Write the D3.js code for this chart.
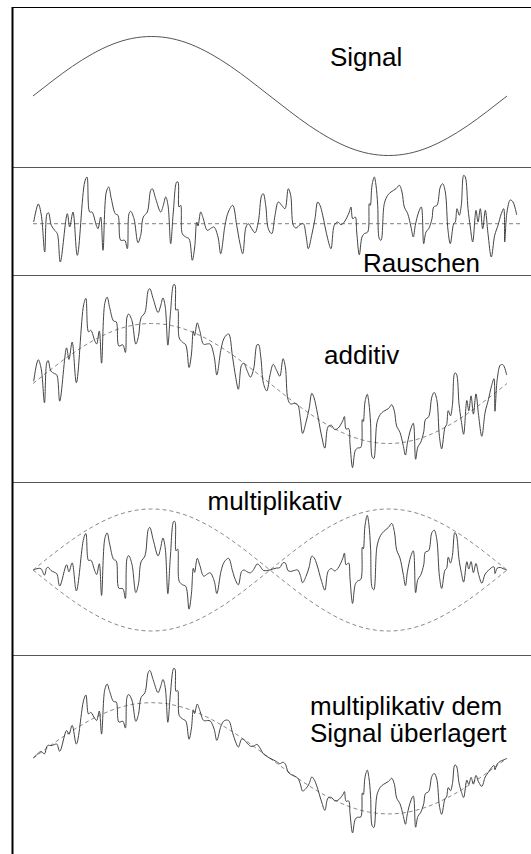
<!DOCTYPE html>
<html><head><meta charset="utf-8">
<script src="https://cdn.jsdelivr.net/npm/d3@7/dist/d3.min.js"></script>
<style>
html,body{margin:0;padding:0;background:#fff;}
svg{display:block;}
text{font-family:"Liberation Sans",Arial,sans-serif;font-size:26px;fill:#000;}
</style></head>
<body><svg id="c" width="531" height="854"></svg>
<script>
// ---- data ----
// time axis: 0 .. 484 (arbitrary units), signal amplitude units: +-60
const signalV = [0,15.5,30,42.4,52,58,60,58,52,42.4,30,15.5,0,-15.5,-30,-42.4,-52,-58,-60,-58,-52,-42.4,-30,-15.5,0];
const noiseT = [0.7,5.3,8.3,11.7,14,15.5,18.3,21.7,24.3,27.3,34.3,36.7,40,44.3,51.7,54,56.7,59,63.3,65,67.7,70,73.3,75.7,78.3,82.3,85,87.7,91.7,94.3,96,97.7,101,105,107.7,110.3,114.3,117.7,119.3,122.7,127.7,130.3,132.7,135,137.7,140.3,143.7,145,146,147.7,149.3,152.7,156,159.3,161.7,163.7,165,167.7,170.3,174.3,178.3,181,185,187.7,192,195.3,199.7,203.7,207,209.7,213,215.3,218.7,222,225.3,228.7,230.3,232.7,235.3,238.7,242,245.3,248.7,252,255.3,257.7,260.3,263,267,270.3,273,275.3,278.7,282,284.7,287,289.7,294.7,298,301.3,304.7,308,311.3,316.3,318,319.7,322.3,323.7,326.3,329,331.3,334.7,336.3,337.3,339,341.3,343,344.7,346.3,348,351.3,354.7,358,363,366.3,369,371.3,374.7,378,380.3,382.3,385.7,388.3,390.7,393,395.7,399,400.7,404,407.3,409.7,412.3,415,417.3,420.7,422.3,424,426.3,428.3,430.7,432.3,435,437.3,439.7,443,445,447.3,449.7,452.3,455,458.3,461.7,465,468.3,470.7,471.7,474,477.3,480,483.7];
const noiseV = [1.7,19.7,8.7,-28.3,9.7,11,-1.6,-6.6,-10,-38.3,10,-3.3,11.7,-31.6,41.7,46.7,11.7,11.7,-1.6,-5,6.7,-26.6,31.7,36.7,25,10,8.4,-16.6,-16.6,-25,10,12.4,5,-19,-11.6,6.7,11.7,33.4,35,25,11.7,18.4,26.7,18.4,-20,11.7,41.7,41.7,16.7,18.4,-10,-13.3,-15,-36.6,-23.3,1.7,-2.3,11.7,5,-6.6,-4.3,-3.3,-13.3,-30,-1.6,11.7,18.4,-1.6,-20,-30,-3.3,0,-5,-9,1.7,28.4,30,18.4,-5,-10,8.4,21.7,18.4,15,35,28.4,-1.6,-4.3,-1,0,-11.6,-25,-11.6,5,21.7,18.4,8.4,-15,-25,-1.6,1.7,-1,1.7,11.7,16.7,5,6.7,-8.3,-31,-13.3,-10,-8.3,20,18.4,38.4,46.7,38.4,18.4,-15,-16.6,20,28.4,31.7,35,38.4,31.7,16.7,10,-3.3,-13.3,-1.6,11.7,16.7,-20,-8.3,-5,5,16.7,18.4,36.7,40,31.7,-6.6,-20,0,1.7,15,8.4,18.4,48.4,46.7,15,-3.3,-18.3,13.4,1.7,15,-5,13.4,-10,-33.3,-11.6,-1.6,10,15,-18.3,11.7,23.7,21.7,8.7];
const labels = ["Signal","Rauschen","additiv","multiplikativ",["multiplikativ dem","Signal überlagert"]];

// ---- layout ----
const svg = d3.select("#c");
const W = 531, H = 854;
const T_MAX = 484;
const signalT = signalV.map((d,i)=> i*T_MAX/(signalV.length-1));
const sigAt = d3.scaleLinear().domain(signalT).range(signalV);

const xMain = d3.scaleLinear().domain([0,T_MAX]).range([33,507]);
const xNoise = d3.scaleLinear().domain([0,T_MAX]).range([33,517]);
function yScale(center, amp){ return d3.scaleLinear().domain([-60,60]).range([center+amp, center-amp]); }

const y1 = yScale(96,59.5), y2 = yScale(223.7,60), y3 = yScale(383.5,60), y4 = yScale(570,61), y5 = yScale(758.3,55.6);

const solid = {stroke:"#444", width:1};
const dashStyle = {stroke:"#8a8a8a", width:1, dash:"4,3"};

function drawLine(pts, x, y, curve, st){
  const line = d3.line().x(d=>x(d[0])).y(d=>y(d[1])).curve(curve);
  const p = svg.append("path").attr("d", line(pts)).attr("fill","none")
    .attr("stroke", st.stroke).attr("stroke-width", st.width);
  if (st.dash) p.attr("stroke-dasharray", st.dash);
  return p;
}
const cr = d3.curveCatmullRom.alpha(0.5);
const signalPts = signalT.map((t,i)=>[t, signalV[i]]);

// frame
svg.append("rect").attr("width",W).attr("height",H).attr("fill","#fff");
[167,275,482,655].forEach(yy=>{
  svg.append("line").attr("x1",13).attr("x2",W).attr("y1",yy+0.5).attr("y2",yy+0.5).attr("stroke","#555").attr("stroke-width",1);
});
svg.append("line").attr("x1",12).attr("x2",W).attr("y1",7.5).attr("y2",7.5).attr("stroke","#000").attr("stroke-width",1);
svg.append("line").attr("x1",12.5).attr("x2",12.5).attr("y1",7).attr("y2",H).attr("stroke","#000").attr("stroke-width",2);

// Panel 1: signal
drawLine(signalPts, xMain, y1, d3.curveNatural, {stroke:"#555", width:1});

// Panel 2: noise
svg.append("line").attr("x1",xNoise(0)).attr("x2",520).attr("y1",y2(0)).attr("y2",y2(0))
  .attr("stroke","#999").attr("stroke-width",1.2).attr("stroke-dasharray","4,3");
const noisePts = noiseT.map((t,i)=>[t, noiseV[i]]);
drawLine(noisePts, xNoise, y2, cr, solid);

// Panel 3: additive
drawLine(signalPts, xMain, y3, d3.curveNatural, dashStyle);
drawLine(noiseT.map((t,i)=>[t, sigAt(t)+noiseV[i]]), xMain, y3, cr, solid);

// Panel 4: multiplicative
drawLine(signalPts, xMain, y4, d3.curveNatural, dashStyle);
drawLine(signalPts.map(d=>[d[0],-d[1]]), xMain, y4, d3.curveNatural, dashStyle);
drawLine(noiseT.map((t,i)=>[t, noiseV[i]*Math.abs(sigAt(t))/60*1.2]), xMain, y4, cr, solid);

// Panel 5: multiplicative on signal
drawLine(signalPts, xMain, y5, d3.curveNatural, dashStyle);
drawLine(noiseT.map((t,i)=>[t, sigAt(t)+noiseV[i]*Math.abs(sigAt(t))/60]), xMain, y5, cr, solid);

// labels
svg.append("text").attr("x",330).attr("y",66).text(labels[0]);
svg.append("text").attr("x",363).attr("y",271.5).text(labels[1]);
svg.append("text").attr("x",324).attr("y",364).text(labels[2]);
svg.append("text").attr("x",207.5).attr("y",510).text(labels[3]);
const t5 = svg.append("text").attr("x",310).attr("y",715);
t5.append("tspan").attr("x",310).attr("y",715).text(labels[4][0]);
t5.append("tspan").attr("x",310).attr("y",742).text(labels[4][1]);
</script></body></html>
